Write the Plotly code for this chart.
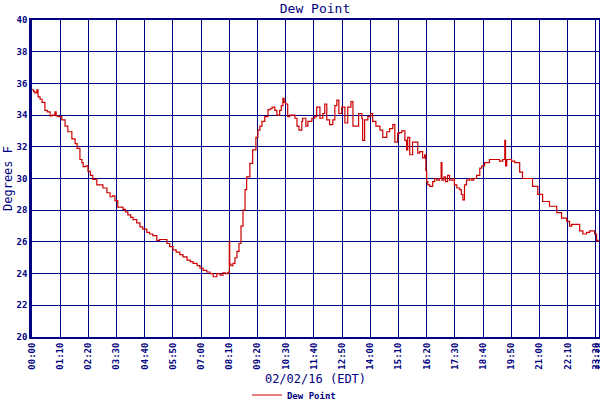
import plotly.graph_objects as go

# time of reading, minutes after midnight
minutes = [0, 4, 7, 12, 15, 20, 25, 28, 32, 38, 45, 50, 55, 57, 60, 65, 74, 82, 89, 99,
           107, 112, 119, 124, 127, 134, 139, 145, 151, 161, 169, 176, 186, 194, 200, 206,
           213, 220, 226, 232, 238, 245, 251, 260, 268, 275, 285, 292, 300, 310, 317, 323,
           335, 342, 350, 358, 367, 375, 385, 393, 400, 410, 417, 425, 434, 442, 447, 450,
           454, 459, 462, 467, 474, 480, 486, 489, 490, 491, 494, 499, 504, 509, 514, 519,
           524, 529, 533, 541, 548, 556, 561, 566, 571, 578, 586, 592, 596, 603, 608, 615,
           619, 623, 626, 630, 635, 640, 645, 653, 658, 663, 670, 672, 680, 685, 695, 702,
           707, 715, 722, 727, 732, 739, 747, 752, 757, 762, 769, 777, 784, 792, 797, 806,
           811, 819, 821, 826, 834, 841, 846, 854, 864, 871, 881, 888, 896, 901, 908, 912,
           918, 926, 930, 933, 938, 945, 953, 958, 963, 970, 975, 978, 980, 983, 988, 995,
           1000, 1005, 1012, 1016, 1018, 1023, 1027, 1032, 1037, 1045, 1049, 1055, 1062,
           1066, 1070, 1074, 1079, 1087, 1092, 1097, 1104, 1112, 1117, 1124, 1136, 1149,
           1161, 1169, 1173, 1174, 1176, 1179, 1185, 1191, 1199, 1211, 1218, 1231, 1243,
           1256, 1268, 1285, 1303, 1315, 1328, 1335, 1340, 1350, 1360, 1368, 1377, 1385,
           1392, 1397, 1402, 1406]

dew_point = [35.6, 35.5, 35.4, 35.6, 35.15, 35.0, 34.8, 34.8, 34.3, 34.2, 33.95, 34.0, 34.0,
             34.2, 33.95, 33.9, 33.7, 33.3, 32.95, 32.5, 32.2, 31.9, 31.2, 31.0, 30.75, 30.8,
             30.45, 30.2, 29.95, 29.6, 29.6, 29.4, 29.1, 28.85, 28.9, 28.6, 28.2, 28.2, 28.05,
             27.9, 27.7, 27.55, 27.4, 27.2, 26.95, 26.8, 26.6, 26.5, 26.4, 26.1, 26.15, 26.15,
             25.9, 25.7, 25.5, 25.35, 25.2, 25.05, 24.85, 24.75, 24.65, 24.5, 24.35, 24.2,
             24.1, 24.0, 24.0, 23.8, 23.8, 24.0, 24.0, 23.9, 24.05, 24.0, 24.05, 24.1, 26.0,
             24.6, 24.5, 24.65, 25.0, 25.4, 25.9, 27.0, 28.0, 29.3, 30.1, 30.95, 31.8, 32.6,
             33.05, 33.3, 33.6, 33.9, 34.35, 34.4, 34.5, 34.3, 34.0, 34.3, 34.6, 35.05, 34.8,
             34.7, 33.9, 34.0, 34.0, 33.8, 33.3, 33.05, 33.6, 33.8, 33.3, 33.6, 33.8, 33.9,
             34.5, 33.8, 34.1, 34.7, 33.7, 33.4, 33.7, 34.6, 34.95, 34.1, 34.5, 33.5, 34.5,
             34.85, 33.3, 33.3, 34.1, 33.8, 32.4, 33.7, 33.9, 34.1, 33.6, 33.3, 33.05, 32.6,
             32.95, 33.15, 33.4, 32.3, 32.85, 32.9, 33.0, 32.4, 31.8, 32.6, 31.5, 32.3, 32.3,
             31.6, 31.7, 31.3, 31.5, 30.5, 29.8, 29.6, 29.5, 29.8, 30.0, 29.9, 30.0, 31.0,
             29.9, 30.1, 29.8, 30.2, 29.9, 30.0, 29.6, 29.4, 29.3, 29.0, 28.65, 29.6, 29.9,
             30.0, 29.9, 30.0, 30.2, 30.65, 30.8, 31.0, 31.2, 31.2, 31.1, 31.2, 31.2, 32.4,
             30.8, 31.2, 31.2, 31.1, 31.0, 30.4, 30.0, 30.0, 29.5, 29.0, 28.55, 28.25, 27.85,
             27.5, 27.3, 27.0, 27.1, 27.1, 26.7, 26.5, 26.6, 26.7, 26.7, 26.5, 26.1, 26.0]

tick_minutes = [0, 70, 140, 210, 280, 350, 420, 490, 560, 630, 700, 770, 840, 910, 980,
                1050, 1120, 1190, 1260, 1330, 1400, 1408]
tick_labels = ["00:00", "01:10", "02:20", "03:30", "04:40", "05:50", "07:00", "08:10",
               "09:20", "10:30", "11:40", "12:50", "14:00", "15:10", "16:20", "17:30",
               "18:40", "19:50", "21:00", "22:10", "23:20", "23:28"]
y_ticks = [20, 22, 24, 26, 28, 30, 32, 34, 36, 38, 40]

NAVY = "#000080"
MONO = "DejaVu Sans Mono"

fig = go.Figure()
fig.add_trace(go.Scatter(
    x=minutes, y=dew_point, mode="lines", name="Dew Point",
    line=dict(color="#cc0000", width=1.2, shape="hv"),
))

fig.update_layout(
    width=600, height=400,
    margin=dict(l=32, r=1, t=20, b=63, autoexpand=False),
    paper_bgcolor="white", plot_bgcolor="white",
    title=dict(text="Dew Point", x=0.525, xanchor="center", y=0.99, yanchor="top",
               font=dict(family=MONO, size=13, color=NAVY)),
    showlegend=True,
    legend=dict(orientation="h", x=0.462, xanchor="center", y=-0.183, yanchor="middle",
                font=dict(family=MONO, size=9, color=NAVY, weight="bold"),
                bgcolor="rgba(0,0,0,0)", itemwidth=30),
    xaxis=dict(
        range=[0, 1408], tickmode="array", tickvals=tick_minutes, ticktext=tick_labels,
        tickangle=-90, tickfont=dict(family=MONO, size=9, color=NAVY, weight="bold"),
        ticklabeloverflow="allow",
        showgrid=True, gridcolor=NAVY, gridwidth=1.2, automargin=False,
        showline=True, linecolor=NAVY, linewidth=2, mirror=True,
        ticks="", zeroline=False,
        title=dict(text="02/02/16 (EDT)", font=dict(family=MONO, size=12, color=NAVY),
                   standoff=6),
    ),
    yaxis=dict(
        range=[20, 40], tickmode="array", tickvals=y_ticks, automargin=False,
        tickfont=dict(family=MONO, size=9, color=NAVY, weight="bold"),
        showgrid=True, gridcolor=NAVY, gridwidth=1.2,
        showline=True, linecolor=NAVY, linewidth=2.5, mirror=True,
        ticks="", zeroline=False,
        title=dict(text="Degrees F", font=dict(family=MONO, size=12, color=NAVY),
                   standoff=2),
    ),
)

fig.write_html("out.html", config={"displayModeBar": False},
               post_script="document.body.style.margin='0';document.body.style.overflow='hidden';")
